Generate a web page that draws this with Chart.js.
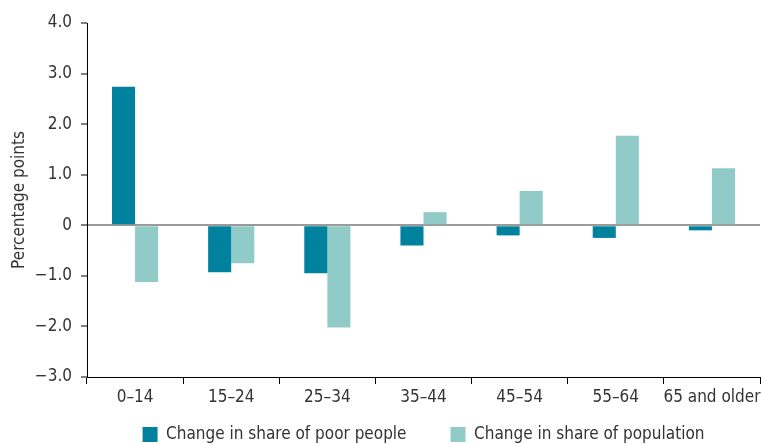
<!DOCTYPE html>
<html>
<head>
<meta charset="utf-8">
<script src="https://cdn.jsdelivr.net/npm/chart.js@4/dist/chart.umd.min.js"></script>
<style>
html,body{margin:0;padding:0;background:#fff;}
#wrap{width:761px;height:444px;position:relative;}
</style>
</head>
<body>
<div id="wrap"><canvas id="c" width="761" height="444"></canvas></div>
<script>
const categories = ['0–14', '15–24', '25–34', '35–44', '45–54', '55–64', '65 and older'];
const poorShare = [2.74, -0.93, -0.95, -0.40, -0.20, -0.25, -0.10];
const popShare = [-1.12, -0.75, -2.02, 0.26, 0.68, 1.77, 1.13];
const seriesNames = ['Change in share of poor people', 'Change in share of population'];
const yTicks = [4, 3, 2, 1, 0, -1, -2, -3];

const FONT = "'Liberation Sans Narrow', 'DejaVu Sans Condensed', sans-serif";
const TXT = '#333333';
const FS = 17;

function fmt(v) {
  if (v === 0) return '0';
  if (v < 0) return '\u2212' + Math.abs(v).toFixed(1);
  return v.toFixed(1);
}

// keep legend compact vertically while allowing wide horizontal spacing
const legendPlace = {
  id: 'legendPlace',
  beforeLayout(chart) {
    const lg = chart.legend;
    if (lg && !lg._patched) {
      const f = lg.fit.bind(lg);
      lg.fit = function () { f(); this.height = 28; };
      lg._patched = true;
    }
  },
  afterLayout(chart) {
    const lg = chart.legend;
    if (lg) { lg.top = 382; lg.bottom = 444; lg.height = 62; }
  }
};

new Chart(document.getElementById('c'), {
  type: 'bar',
  data: {
    labels: categories,
    datasets: [
      { label: seriesNames[0], data: poorShare, backgroundColor: '#00829E', borderWidth: 0 },
      { label: seriesNames[1], data: popShare, backgroundColor: '#90CBC8', borderWidth: 0 }
    ]
  },
  plugins: [legendPlace],
  options: {
    responsive: false,
    animation: false,
    devicePixelRatio: 1,
    layout: { padding: { top: 23, right: 1, left: 0, bottom: 0 } },
    datasets: { bar: { categoryPercentage: 0.48, barPercentage: 1.0 } },
    plugins: {
      legend: {
        position: 'bottom',
        fullSize: false,
        labels: {
          boxWidth: 15, boxHeight: 15, padding: 44,
          color: TXT, font: { family: FONT, size: FS }
        }
      },
      tooltip: { enabled: false }
    },
    scales: {
      x: {
        grid: {
          offset: true, drawOnChartArea: false, drawTicks: true,
          tickLength: 7, tickColor: '#000', tickWidth: 1
        },
        border: { color: '#000', width: 1 },
        ticks: { color: TXT, font: { family: FONT, size: FS }, padding: 3, maxRotation: 0, autoSkip: false },
        afterFit: s => { s.height = 39; s.paddingRight = 0; s.paddingLeft = 0; }
      },
      y: {
        min: -3, max: 4,
        afterBuildTicks: s => { s.ticks = yTicks.map(v => ({ value: v })); },
        grid: {
          color: c => (c.tick && c.tick.value === 0) ? '#9a9a9a' : 'rgba(0,0,0,0)',
          lineWidth: c => (c.tick && c.tick.value === 0) ? 2 : 0,
          drawTicks: true, tickLength: 6, tickColor: '#000', tickWidth: 1
        },
        border: { color: '#000', width: 1 },
        ticks: { color: TXT, font: { family: FONT, size: FS }, padding: 9, callback: v => fmt(v) },
        title: { display: true, text: 'Percentage points', color: TXT, font: { family: FONT, size: FS }, padding: { top: 9, bottom: 4 } },
        afterFit: s => { s.width = 87; }
      }
    }
  }
});
</script>
</body>
</html>
